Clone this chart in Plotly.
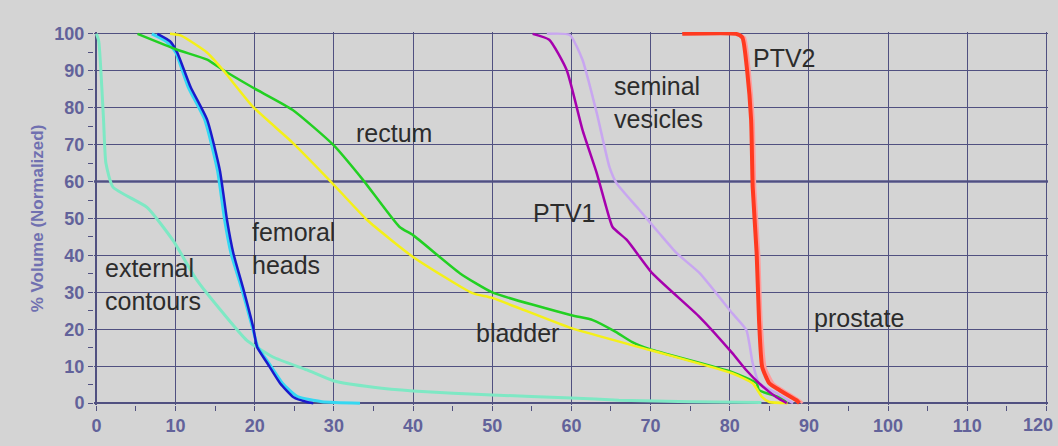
import plotly.graph_objects as go

# ---- data (dose %, volume %) ----
ext_x = [0, 0.3, 0.9, 1.2, 2.1, 6.4, 9.7, 12.7, 16, 19, 22.3, 26.6, 30, 35, 40, 50, 60, 66, 75, 84]
ext_y = [100, 98, 77, 65, 58.5, 53, 44, 33.3, 24.4, 17, 12.5, 9, 6, 4.3, 3.3, 2.2, 1.4, 0.8, 0.4, 0.2]

fem1_x = [7.7, 9.3, 10.2, 11.9, 14, 15.6, 16.5, 17.3, 18.5, 19.8, 20.3, 21.6, 23.2, 24.9, 26.6, 27.4]
fem1_y = [100, 98, 95, 85.6, 76.7, 63, 49.6, 40.6, 31.4, 20.6, 15.2, 10.8, 5.4, 1.6, 0.3, 0]

fem2_x = [7.0, 8.8, 10.0, 11.6, 13.7, 15.3, 16.2, 17.0, 18.3, 19.7, 20.4, 21.8, 23.5, 25.4, 28.5, 33.3]
fem2_y = [100, 98, 95, 85.6, 76.7, 63, 49.6, 40.6, 31.4, 20.6, 15.2, 10.8, 5.4, 1.8, 0.4, 0]

rect_x = [5.2, 10.2, 14, 16, 19.8, 24.8, 29.9, 33.7, 38.3, 40, 45.9, 50, 60, 62.7, 65.6, 67.7, 69.9, 80.3, 83.4, 83.7, 86.6, 87.2]
rect_y = [100, 95.7, 93, 90.2, 85.4, 79.4, 70, 60.4, 47.7, 45.5, 35.2, 30, 23.8, 22.5, 19.3, 16.5, 14.6, 8.4, 5.4, 3.5, 1.4, 0.2]

blad_x = [9.3, 10.7, 14, 16, 19.8, 24.8, 29.7, 34.2, 40, 47.5, 50, 60, 69.9, 80.3, 82.9, 84.1, 85, 87.3]
blad_y = [100, 99.5, 94.9, 90.2, 80.2, 70.5, 59.8, 49.6, 39.6, 29.8, 28.5, 20.3, 14.4, 8.1, 5.4, 1.6, 0.3, 0]

ptv1_x = [55.1, 57.2, 59.4, 61.4, 63.2, 64.4, 65.2, 67, 70.2, 76.2, 80.3, 82.1, 83.7, 85.9, 87.2]
ptv1_y = [100, 98.4, 90.2, 74, 62.3, 53.1, 47.7, 44.2, 35.2, 23.3, 13.6, 8.9, 5.4, 1.6, 0]

sv_x = [56.9, 59.8, 61.4, 63.2, 64.8, 65.7, 68.6, 71.1, 73.3, 76.2, 80.3, 82.1, 82.9, 83.7, 85.9, 88.0]
sv_y = [100, 99.7, 93, 78.6, 64, 59.6, 52.3, 46, 40.6, 35.2, 24.4, 19.8, 10.8, 5.4, 2.7, 0]

ptv2_x = [74, 80.8, 81.6, 82.2, 82.7, 82.9, 83.4, 83.7, 84.1, 85, 86.3, 88.4, 88.8]
ptv2_y = [100, 100, 99, 90, 76.7, 58.5, 40.6, 22.5, 9.8, 5.4, 3.5, 0.8, 0]

pros_x = [81.0, 81.9, 82.5, 83.0, 83.2, 83.7, 84.0, 84.5, 85.5, 86.8, 88.8, 89.2]
pros_y = [100, 99, 90, 76.7, 58.5, 40.6, 22.5, 9.8, 5.4, 3.5, 0.8, 0]

labels = ["external<br>contours", "femoral<br>heads", "rectum", "bladder", "PTV1",
          "seminal<br>vesicles", "PTV2", "prostate"]
label_x = [0.84, 19.4, 32.6, 47.7, 54.9, 65.1, 82.7, 90.4]
label_y = [32, 41.9, 73.2, 19, 51.5, 81.4, 93.5, 23]

x_ticks = [0, 10, 20, 30, 40, 50, 60, 70, 80, 90, 100, 110, 120]
y_ticks = [0, 10, 20, 30, 40, 50, 60, 70, 80, 90, 100]

fig = go.Figure()

def add(x, y, color, width, shape="spline"):
    fig.add_trace(go.Scatter(x=x, y=y, mode="lines",
                             line=dict(color=color, width=width, shape=shape, smoothing=0.5),
                             showlegend=False, hoverinfo="skip"))

add(ext_x, ext_y, "#7ee8c4", 3)
add(fem2_x, fem2_y, "#35d8f2", 3)
add(fem1_x, fem1_y, "#1a1acc", 2.5)
add(rect_x, rect_y, "#22d022", 2.5)
add(blad_x, blad_y, "#f4f018", 2.5)
add(sv_x, sv_y, "#c8a6f0", 2.5)
add(ptv1_x, ptv1_y, "#a600ae", 2.5)
add(pros_x, pros_y, "#ff9c9c", 2.5)
add(ptv2_x, ptv2_y, "#ff3a20", 4)

grid_col = "#505080"
fig.add_hline(y=60, line=dict(color="#54548c", width=2.5), layer="below")

for t, xx, yy in zip(labels, label_x, label_y):
    fig.add_annotation(x=xx, y=yy, text=t, showarrow=False, xanchor="left", yanchor="middle",
                       align="left", font=dict(family="Liberation Sans, Arial", size=25, color="#2c2c2c"))

tick_font = dict(family="Liberation Sans, Arial", size=18, color="#62629a")

# last x tick label is right-aligned to the page edge so it stays fully visible
x_ticktext = [f"<b>{v}</b>" for v in x_ticks[:-1]] + [""]
fig.add_annotation(x=x_ticks[-1], xref="x", y=0, yref="paper", text=f"<b>{x_ticks[-1]}</b>",
                   showarrow=False, xanchor="right", yanchor="top", xshift=9, yshift=-8,
                   font=tick_font)

fig.update_layout(
    width=1058, height=446,
    margin=dict(l=94, r=10, t=32, b=41),
    paper_bgcolor="#d4d4d4", plot_bgcolor="#d4d4d4",
    font=dict(family="Liberation Sans, Arial"),
    xaxis=dict(range=[-0.3, 120.2], tickvals=x_ticks, ticktext=x_ticktext,
               showgrid=True, gridcolor=grid_col, gridwidth=1,
               zeroline=True, zerolinecolor=grid_col, zerolinewidth=1.5,
               showline=False, ticks="outside", ticklen=4, tickcolor=grid_col,
               automargin=False,
               minor=dict(dtick=5, tick0=0, ticks="outside", ticklen=5, tickcolor=grid_col, showgrid=False),
               tickfont=tick_font),
    yaxis=dict(range=[-0.5, 100.5], tickvals=y_ticks, ticktext=[f"<b>{v}</b>" for v in y_ticks],
               showgrid=True, gridcolor=grid_col, gridwidth=1,
               zeroline=True, zerolinecolor=grid_col, zerolinewidth=1.5,
               showline=False, ticks="outside", ticklen=5, tickcolor=grid_col,
               automargin=False,
               minor=dict(dtick=5, tick0=0, ticks="outside", ticklen=5, tickcolor=grid_col, showgrid=False),
               tickfont=tick_font,
               title=dict(text="<b>% Volume (Normalized)</b>", standoff=6,
                          font=dict(family="Liberation Sans, Arial", size=17, color="#7070b0"))),
)

fig.write_html("out.html")
